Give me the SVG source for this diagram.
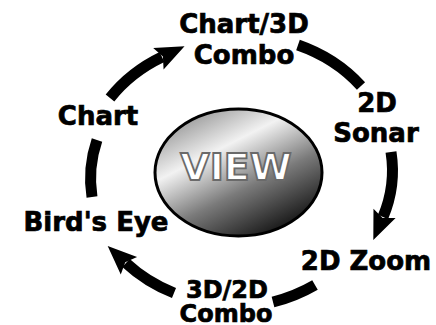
<svg xmlns="http://www.w3.org/2000/svg" width="436" height="325" viewBox="0 0 436 325">
<defs>
<linearGradient id="g" x1="0.2" y1="0.05" x2="0.8" y2="0.95">
<stop offset="0" stop-color="#9a9a9a"/>
<stop offset="0.3" stop-color="#f2f2f2"/>
<stop offset="0.62" stop-color="#7a7a7a"/>
<stop offset="1" stop-color="#111"/>
</linearGradient>
<marker id="ah" markerUnits="userSpaceOnUse" markerWidth="40" markerHeight="40" refX="2" refY="0" viewBox="-5 -20 40 40" orient="auto" overflow="visible">
<path d="M-2,-12 L27,0 L-2,12 L3,0 Z" fill="#000"/>
</marker>
<style>
.lbl{font-family:"DejaVu Sans","Liberation Sans",sans-serif;font-weight:bold;font-size:26px;fill:#000;stroke:#000;stroke-width:0.7;text-anchor:middle}
.sm{font-size:24px}
.arc{fill:none;stroke:#000;stroke-width:11;stroke-linecap:butt}
</style>
</defs>
<rect width="436" height="325" fill="#fff"/>
<g id="connectors">
<path class="arc" d="M110,98 A152,134 0 0,1 162,57" marker-end="url(#ah)"/>
<path class="arc" d="M298,45 A152,134 0 0,1 361,86"/>
<path class="arc" d="M391,152 A152,134 0 0,1 383,217" marker-end="url(#ah)"/>
<path class="arc" d="M315,285 A152,134 0 0,1 273,302"/>
<path class="arc" d="M174,293 A152,134 0 0,1 126,263" marker-end="url(#ah)"/>
<path class="arc" d="M92,197 A152,134 0 0,1 97,140"/>
</g>
<g id="view">
<ellipse cx="238.5" cy="172.5" rx="83.5" ry="63.5" fill="url(#g)" stroke="#000" stroke-width="3"/>
<text x="236" y="180" font-family="DejaVu Sans, Liberation Sans, sans-serif" font-weight="bold" font-size="38" text-anchor="middle" fill="#fff" stroke="#6a6a6a" stroke-width="1.8">VIEW</text>
</g>
<g id="chart3d"><text class="lbl" x="244" y="33">Chart/3D</text><text class="lbl" x="244" y="64">Combo</text></g>
<g id="sonar"><text class="lbl" x="377" y="112">2D</text><text class="lbl" x="376" y="142">Sonar</text></g>
<g id="zoom"><text class="lbl" x="366" y="270">2D Zoom</text></g>
<g id="combo32"><text class="lbl sm" x="227" y="298">3D/2D</text><text class="lbl sm" x="226" y="322">Combo</text></g>
<g id="birdseye"><text class="lbl" x="96" y="231">Bird's Eye</text></g>
<g id="chart"><text class="lbl" x="98" y="125">Chart</text></g>
</svg>
